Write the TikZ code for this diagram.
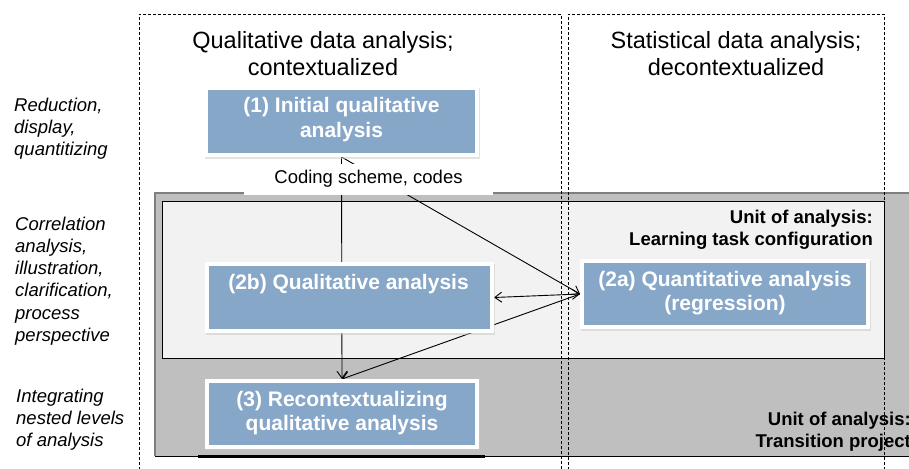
\documentclass[tikz,border=0pt]{standalone}
\usepackage{fontspec}
\setmainfont{Liberation Sans}
\usetikzlibrary{arrows.meta,shadows}
\definecolor{boxblue}{HTML}{87A7C8}
\definecolor{outergray}{HTML}{BFBFBF}
\definecolor{innergray}{HTML}{F2F2F2}
\definecolor{bordergray}{HTML}{7F7F7F}
\newcommand\rowsc[1]{\begin{tabular}[t]{@{}c@{}}#1\end{tabular}}
\newcommand\rowsl[1]{\begin{tabular}[t]{@{}l@{}}#1\end{tabular}}
\newcommand\rowsr[1]{\begin{tabular}[t]{@{}r@{}}#1\end{tabular}}
\pgfdeclarelayer{bg}
\pgfdeclarelayer{lines}
\pgfsetlayers{bg,lines,main}
\begin{document}
\begin{tikzpicture}[x=1pt,y=-1pt,
  box/.style={draw=white, line width=4pt, fill=boxblue, inner sep=0pt,
    drop shadow={shadow xshift=1pt, shadow yshift=-2pt, fill=black!22, draw=black!22, line width=4pt}},
  boxtext/.style={text=white, font=\fontsize{21}{24.5}\selectfont\bfseries, inner sep=0pt, anchor=base},
  lab/.style={font=\fontsize{18.5}{22.3}\selectfont\itshape, inner sep=0pt, anchor=base west},
  title/.style={font=\fontsize{23.5}{27}\selectfont, inner sep=0pt, anchor=base},
  unit/.style={font=\fontsize{18.5}{22}\selectfont\bfseries, inner sep=0pt, anchor=base east},
  frame/.style={draw=black, line width=0.8pt, dash pattern=on 3pt off 2pt},
  conn/.style={draw=black, line width=0.9pt},
  tip/.tip={Straight Barb[length=7pt,width=10pt]}
]
\useasboundingbox (0,0) rectangle (909,468);

\begin{pgfonlayer}{bg}
  \fill[outergray] (155,193) rectangle (915,456);
  \draw[bordergray, line width=2pt] (915,193) -- (155,193) -- (155,456);
  \draw[black, line width=1pt] (155,456) -- (915,456);
  \draw[black, line width=2.5pt] (198,456.5) -- (485,456.5);
  \draw[fill=innergray, line width=1pt] (162,201) rectangle (884,358);
  \draw[frame] (139,470) -- (139,14) -- (561,14) -- (561,470);
  \draw[frame] (568,470) -- (568,14) -- (884,14) -- (884,470);
\end{pgfonlayer}

% titles
\node[title] (tq) at (323,49) {\rowsc{Qualitative data analysis;\\contextualized}};
\node[title] (ts) at (736,49) {\rowsc{Statistical data analysis;\\decontextualized}};

% left labels
\node[lab] (l1) at (14,111) {\rowsl{Reduction,\\display,\\quantitizing}};
\node[lab] (l2) at (15,230) {\rowsl{Correlation\\analysis,\\illustration,\\clarification,\\process\\perspective}};
\node[lab] (l3) at (16,402) {\rowsl{Integrating\\nested levels\\of analysis}};

% unit labels
\node[unit] (u1) at (873,223) {\rowsr{Unit of analysis:\\Learning task configuration}};
\node[unit] (u2) at (911,425) {\rowsr{Unit of analysis:\\Transition project}};

% boxes
\node[box, minimum width=271pt, minimum height=67pt] (b1) at (341.5,121.5) {};
\node[box, minimum width=285pt, minimum height=67pt] (b2b) at (349.5,297.5) {};
\node[box, minimum width=286pt, minimum height=66pt] (b2a) at (725,294) {};
\node[box, minimum width=270pt, minimum height=66pt] (b3) at (342,414) {};

\node[boxtext] (t1) at (341.5,113) {\rowsc{(1) Initial qualitative\\analysis}};
\node[boxtext] (t2b) at (348.5,289) {(2b) Qualitative analysis};
\node[boxtext] (t2a) at (725,286) {\rowsc{(2a) Quantitative analysis\\(regression)}};
\node[boxtext] (t3) at (342,406) {\rowsc{(3) Recontextualizing\\qualitative analysis}};

% coding label
\node[font=\fontsize{18.5}{22}\selectfont, fill=white, inner sep=0pt, text height=19pt, text depth=12pt, minimum width=249pt, anchor=base] (code) at (368.5,183) {Coding scheme, codes};

% connectors
\begin{pgfonlayer}{lines}
  \draw[conn, -{tip}] (b1.south) -- (b3.north);
  \draw[conn, -{tip}] (b1.south) -- (b2a.west);
  \draw[conn, {tip}-{tip}] (b2b.east) -- (b2a.west);
  \draw[conn, -{tip}] (b2a.west) -- (b3.north);
\end{pgfonlayer}
\end{tikzpicture}
\end{document}
